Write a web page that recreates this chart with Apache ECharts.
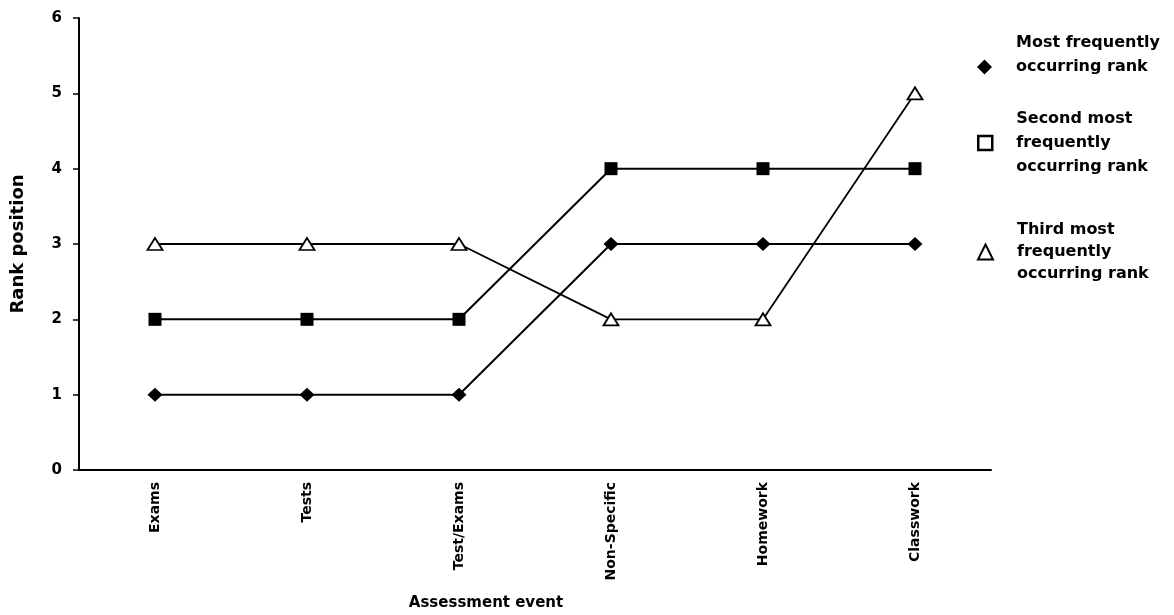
<!DOCTYPE html>
<html>
<head>
<meta charset="utf-8">
<script src="https://cdn.jsdelivr.net/npm/echarts@6/dist/echarts.min.js"></script>
<style>
html,body{margin:0;padding:0;background:#fff;}
#chart{width:1174px;height:615px;}
</style>
</head>
<body>
<div id="chart"></div>
<script>
const categories = ['Exams', 'Tests', 'Test/Exams', 'Non-Specific', 'Homework', 'Classwork'];
const mostFrequent = [1, 1, 1, 3, 3, 3];
const secondMost = [2, 2, 2, 4, 4, 4];
const thirdMost = [3, 3, 3, 2, 2, 5];
const yTicks = [0, 1, 2, 3, 4, 5, 6];
const seriesNames = [
  'Most frequently\noccurring rank\n ',
  'Second most\nfrequently\noccurring rank',
  'Third most\nfrequently\noccurring rank'
];

const FONT = '"DejaVu Sans", sans-serif';
const chart = echarts.init(document.getElementById('chart'));

function legendAt(name, top, icon, style, size, lh) {
  return {
    left: 977,
    top: top,
    padding: 0,
    orient: 'vertical',
    selectedMode: false,
    itemWidth: size,
    itemHeight: size,
    data: [{ name: name, icon: icon, itemStyle: style }],
    textStyle: {
      fontFamily: FONT,
      fontWeight: 'bold',
      fontSize: 16,
      color: '#000',
      lineHeight: lh,
      padding: [0, 0, 0, 19]
    }
  };
}

chart.setOption({
  animation: false,
  backgroundColor: '#fff',
  grid: { left: 79, right: 183, top: 18, bottom: 145, outerBoundsMode: 'none', containLabel: false },
  legend: [
    legendAt(seriesNames[0], 68 - 37, 'diamond', { color: '#000', borderWidth: 0 }, 15, 24),
    legendAt(seriesNames[1], 144 - 37, 'rect', { color: '#fff', borderColor: '#000', borderWidth: 2.5 }, 14, 24),
    legendAt(seriesNames[2], 252 - 33, 'triangle', { color: '#fff', borderColor: '#000', borderWidth: 2 }, 15, 22)
  ],
  xAxis: {
    type: 'category',
    data: categories,
    boundaryGap: true,
    axisLine: { show: true, lineStyle: { color: '#000', width: 2 } },
    axisTick: { show: false },
    axisLabel: {
      rotate: 90,
      margin: 12,
      fontFamily: FONT,
      fontWeight: 'bold',
      fontSize: 14,
      color: '#000'
    },
    name: 'Assessment event',
    nameLocation: 'middle',
    nameGap: 126,
    nameTextStyle: { fontFamily: FONT, fontWeight: 'bold', fontSize: 15, color: '#000', padding: [0, 98, 0, 0] }
  },
  yAxis: {
    type: 'value',
    min: yTicks[0],
    max: yTicks[yTicks.length - 1],
    interval: 1,
    splitLine: { show: false },
    axisLine: { show: true, lineStyle: { color: '#000', width: 2 } },
    axisTick: { show: true, inside: false, length: 6, lineStyle: { color: '#000', width: 1.5 } },
    axisLabel: {
      margin: 17,
      fontFamily: FONT,
      fontWeight: 'bold',
      fontSize: 15,
      color: '#000'
    },
    name: 'Rank position',
    nameLocation: 'middle',
    nameRotate: 90,
    nameGap: 52,
    nameTextStyle: { fontFamily: FONT, fontWeight: 'bold', fontSize: 18, color: '#000' }
  },
  series: [
    {
      name: seriesNames[0],
      type: 'line',
      data: mostFrequent,
      symbol: 'diamond',
      symbolSize: [15, 14],
      lineStyle: { color: '#000', width: 2 },
      itemStyle: { color: '#000' }
    },
    {
      name: seriesNames[1],
      type: 'line',
      data: secondMost,
      symbol: 'rect',
      symbolSize: 13,
      lineStyle: { color: '#000', width: 2 },
      itemStyle: { color: '#000' }
    },
    {
      name: seriesNames[2],
      type: 'line',
      data: thirdMost,
      symbol: 'triangle',
      symbolSize: [15, 12],
      lineStyle: { color: '#000', width: 1.8 },
      itemStyle: { color: '#fff', borderColor: '#000', borderWidth: 1.8 }
    }
  ]
});
</script>
</body>
</html>
